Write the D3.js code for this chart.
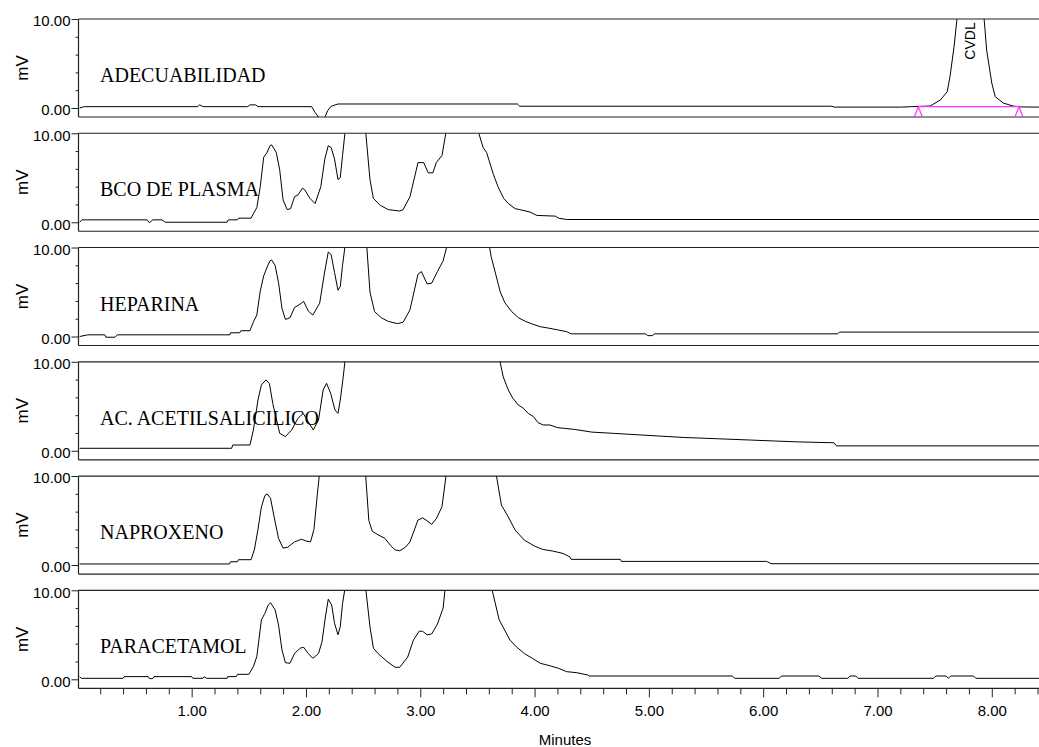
<!DOCTYPE html>
<html>
<head>
<meta charset="utf-8">
<script src="https://cdn.jsdelivr.net/npm/d3@7"></script>
<style>
  html, body { margin: 0; padding: 0; background: #fff; }
  svg { display: block; }
</style>
</head>
<body>
<svg id="chart" width="1039" height="747"></svg>
<script>
// ---------------- DATA ----------------
const panelNames = ["ADECUABILIDAD", "BCO DE PLASMA", "HEPARINA", "AC. ACETILSALICILICO", "NAPROXENO", "PARACETAMOL"];
const xTickMajor = [1, 2, 3, 4, 5, 6, 7, 8];
const yTickLabels = [0, 10];
const yTickMinor = [2, 4, 6, 8];
const xAxisTitle = "Minutes";
const yAxisTitle = "mV";
const peakLabel = "CVDL";
// integration baseline of the CVDL peak [start, end] in minutes and its level in mV
const peakBaseline = [[7.357, 0.15], [8.238, 0.15]];

// [minutes, mV]
const adecuabilidad = [
  [0.02,0.0],[0.06,0.15],[1.05,0.15],[1.07,0.35],[1.10,0.15],[1.49,0.15],[1.51,0.35],[1.56,0.35],[1.58,0.15],
  [2.05,0.15],[2.08,-0.5],[2.12,-1.2],[2.16,-1.2],[2.19,-0.3],[2.22,0.2],[2.28,0.45],[3.85,0.45],[3.87,0.2],
  [6.60,0.2],[6.62,0.1],[7.20,0.1],[7.30,0.15],[7.40,0.2],[7.46,0.22],[7.55,0.9],[7.61,1.83],[7.634,3.5],
  [7.67,6.9],[7.693,9.7],[7.72,14],[7.80,30],[7.90,14],[7.935,9.7],[7.955,6.5],[8.0,2.8],[8.03,1.27],
  [8.10,0.56],[8.186,0.22],[8.25,0.12],[8.42,0.1]
];
const bcoPlasma = [
  [0.02,0.0],[0.04,0.27],[0.61,0.27],[0.63,-0.05],[0.66,0.27],[0.74,0.27],[0.77,0.0],[1.31,0.0],[1.32,0.27],
  [1.40,0.27],[1.41,0.46],[1.52,0.46],[1.54,0.96],[1.57,1.65],[1.60,4.0],[1.63,7.3],[1.66,7.85],[1.685,8.6],
  [1.70,8.7],[1.74,7.85],[1.77,5.9],[1.80,2.5],[1.836,1.42],[1.866,1.53],[1.90,2.87],[1.93,3.07],[1.97,3.83],
  [1.99,3.64],[2.035,2.68],[2.08,2.1],[2.13,4.0],[2.165,7.1],[2.195,8.6],[2.22,8.4],[2.25,7.1],[2.28,4.8],
  [2.30,5.0],[2.32,7.5],[2.345,10.5],[2.44,60],[2.52,10.5],[2.56,4.8],[2.59,2.68],[2.65,1.9],[2.72,1.42],
  [2.82,1.26],[2.85,1.42],[2.91,2.87],[2.98,6.7],[3.03,6.7],[3.07,5.55],[3.11,5.55],[3.14,6.7],[3.19,7.5],
  [3.23,10.5],[3.37,80],[3.50,10.5],[3.55,8.4],[3.58,7.85],[3.64,5.36],[3.68,4.0],[3.73,2.68],[3.77,2.1],
  [3.83,1.53],[3.87,1.42],[3.96,1.15],[4.02,0.77],[4.18,0.69],[4.21,0.46],[4.28,0.31],[8.42,0.31]
];
const heparina = [
  [0.02,0.0],[0.09,0.19],[0.24,0.19],[0.25,-0.08],[0.33,-0.08],[0.35,0.19],[1.335,0.19],[1.34,0.42],[1.42,0.42],
  [1.43,0.65],[1.51,0.65],[1.54,1.65],[1.57,2.41],[1.60,5.1],[1.63,6.8],[1.66,7.8],[1.685,8.5],[1.70,8.6],
  [1.73,8.0],[1.76,6.05],[1.79,3.18],[1.82,1.92],[1.86,2.1],[1.90,3.26],[1.94,3.56],[1.98,3.95],[2.02,2.87],
  [2.06,2.41],[2.12,3.75],[2.16,7.0],[2.195,9.5],[2.22,9.2],[2.25,7.2],[2.28,5.2],[2.30,5.6],[2.32,8.0],
  [2.345,10.5],[2.44,60],[2.53,10.5],[2.56,5.0],[2.60,2.8],[2.66,2.1],[2.72,1.7],[2.80,1.45],[2.85,1.6],
  [2.91,3.0],[2.98,7.0],[3.01,7.3],[3.06,5.9],[3.10,6.0],[3.15,7.3],[3.20,8.5],[3.24,10.5],[3.40,80],
  [3.60,10.5],[3.62,9.0],[3.66,7.0],[3.70,5.0],[3.74,3.8],[3.80,2.8],[3.86,2.1],[3.92,1.7],[3.98,1.4],
  [4.05,1.1],[4.12,0.95],[4.20,0.75],[4.28,0.55],[4.32,0.3],[4.97,0.3],[4.99,0.1],[5.03,0.1],[5.05,0.3],
  [6.65,0.3],[6.67,0.5],[8.42,0.5]
];
const acAcetil = [
  [0.02,0.28],[1.35,0.28],[1.36,0.65],[1.51,0.65],[1.54,2.34],[1.58,5.7],[1.61,7.4],[1.65,7.96],[1.68,7.58],
  [1.71,5.3],[1.77,1.97],[1.82,1.6],[1.875,2.34],[1.93,3.65],[1.976,4.2],[2.02,3.27],[2.064,2.34],[2.11,3.46],
  [2.15,6.83],[2.18,7.58],[2.216,6.46],[2.254,4.58],[2.28,4.2],[2.30,5.7],[2.326,8.3],[2.345,10.5],[2.6,60],
  [3.0,100],[3.4,60],[3.69,10.5],[3.726,8.3],[3.77,6.83],[3.81,5.9],[3.857,5.15],[3.90,4.8],[3.945,4.2],
  [3.99,3.83],[4.03,3.16],[4.076,2.9],[4.135,2.9],[4.20,2.6],[4.35,2.4],[4.50,2.1],[4.70,1.95],[4.90,1.8],
  [5.10,1.65],[5.30,1.5],[5.60,1.35],[5.90,1.2],[6.10,1.1],[6.30,1.0],[6.62,0.9],[6.64,0.55],[8.42,0.55]
];
const naproxeno = [
  [0.02,0.12],[1.33,0.12],[1.34,0.37],[1.40,0.37],[1.41,0.6],[1.52,0.6],[1.55,1.8],[1.58,4.0],[1.61,6.5],
  [1.64,7.8],[1.66,8.0],[1.69,7.5],[1.72,5.5],[1.76,3.0],[1.80,1.9],[1.84,2.0],[1.90,2.6],[1.96,2.9],
  [2.00,2.7],[2.04,2.6],[2.07,4.0],[2.10,8.0],[2.12,10.5],[2.30,60],[2.52,10.5],[2.55,5.0],[2.58,3.8],
  [2.63,3.4],[2.69,3.0],[2.74,2.2],[2.78,1.7],[2.82,1.6],[2.87,2.0],[2.91,2.6],[2.98,5.06],[3.02,5.3],
  [3.05,5.06],[3.10,4.57],[3.14,5.2],[3.19,6.55],[3.23,10.5],[3.40,80],[3.66,10.5],[3.71,6.74],[3.77,5.4],
  [3.83,3.93],[3.91,2.8],[4.00,2.13],[4.07,1.76],[4.16,1.57],[4.25,1.3],[4.31,0.9],[4.32,0.64],[4.75,0.64],
  [4.76,0.41],[6.03,0.41],[6.07,0.15],[8.42,0.15]
];
const paracetamol = [
  [0.02,0.3],[0.035,0.11],[0.40,0.11],[0.41,0.3],[0.62,0.3],[0.63,0.08],[0.66,0.08],[0.67,0.3],[1.00,0.3],
  [1.01,0.11],[1.10,0.11],[1.11,0.3],[1.13,0.11],[1.31,0.11],[1.315,0.3],[1.39,0.3],[1.40,0.56],[1.50,0.56],
  [1.54,1.42],[1.57,2.55],[1.61,6.67],[1.64,7.4],[1.67,8.35],[1.69,8.6],[1.73,7.8],[1.76,6.1],[1.79,3.3],
  [1.82,1.87],[1.86,1.8],[1.90,2.9],[1.95,3.5],[1.98,3.6],[2.02,2.9],[2.06,2.36],[2.11,2.9],[2.14,4.2],
  [2.17,7.0],[2.195,9.0],[2.225,8.35],[2.25,6.3],[2.28,5.0],[2.30,5.9],[2.32,8.5],[2.345,10.5],[2.44,60],
  [2.52,10.5],[2.56,5.9],[2.59,3.5],[2.63,2.9],[2.71,2.0],[2.78,1.35],[2.82,1.35],[2.89,2.5],[2.94,4.4],
  [2.99,5.4],[3.02,5.4],[3.06,5.0],[3.10,5.1],[3.15,6.2],[3.20,8.0],[3.22,10.5],[3.40,80],[3.62,10.5],
  [3.69,6.7],[3.785,4.4],[3.84,3.66],[3.91,2.9],[3.98,2.36],[4.05,1.8],[4.14,1.5],[4.21,1.23],[4.28,0.86],
  [4.37,0.74],[4.46,0.5],[4.48,0.37],[5.73,0.37],[5.75,0.11],[6.14,0.11],[6.16,0.37],[6.49,0.37],[6.51,0.11],
  [6.74,0.11],[6.76,0.37],[6.81,0.37],[6.83,0.11],[7.49,0.11],[7.51,0.37],[7.60,0.37],[7.62,0.11],[7.64,0.37],
  [7.84,0.37],[7.86,0.11],[8.42,0.11]
];
const seriesList = [adecuabilidad, bcoPlasma, heparina, acAcetil, naproxeno, paracetamol];

// ---------------- LAYOUT ----------------
const W = 1039, H = 747;
const left = 78.5, right = 1039.8;
const top0 = 19, step = 114.26, panelH = 98, zeroOff = 89;
const sansFont = "'Liberation Sans', Arial, sans-serif";
const serifFont = "'Liberation Serif', 'Times New Roman', serif";

const svg = d3.select("#chart");
const x = d3.scaleLinear().domain([0.01, 8.42]).range([left, right]);
const line = d3.line().curve(d3.curveLinear);

const defs = svg.append("defs");

panelNames.forEach((name, i) => {
  const T = top0 + i * step;
  const y = d3.scaleLinear().domain([0, 10]).range([T + zeroOff, T]);
  const g = svg.append("g");

  defs.append("clipPath").attr("id", "clip" + i)
    .append("rect").attr("x", left).attr("y", T).attr("width", W - left).attr("height", panelH);

  // trace
  g.append("path")
    .attr("clip-path", "url(#clip" + i + ")")
    .attr("d", line.x(d => x(d[0])).y(d => y(d[1]))(seriesList[i]))
    .attr("fill", "none").attr("stroke", "#000").attr("stroke-width", 1);

  // frame: top, bottom, left
  g.append("line").attr("x1", left).attr("x2", W).attr("y1", T).attr("y2", T)
    .attr("stroke", "#222").attr("stroke-width", 1.2);
  g.append("line").attr("x1", left).attr("x2", W).attr("y1", T + panelH).attr("y2", T + panelH)
    .attr("stroke", "#222").attr("stroke-width", 1.2);

  // y axis: labelled ticks
  const yAxisMajor = d3.axisLeft(y).tickValues(yTickLabels).tickSize(7).tickPadding(1)
    .tickFormat(d3.format(".2f"));
  const ga = g.append("g").attr("transform", `translate(${left},0)`).call(yAxisMajor);
  ga.select(".domain").remove();
  ga.selectAll("text").attr("font-family", sansFont).attr("font-size", 15).attr("fill", "#000").attr("dy", "0.45em");
  ga.selectAll("line").attr("stroke", "#222");
  const yAxisMinor = d3.axisLeft(y).tickValues(yTickMinor).tickSize(3).tickFormat("");
  const gm = g.append("g").attr("transform", `translate(${left},0)`).call(yAxisMinor);
  gm.select(".domain").remove();
  gm.selectAll("line").attr("stroke", "#222");
  g.append("line").attr("x1", left).attr("x2", left).attr("y1", T).attr("y2", T + panelH)
    .attr("stroke", "#222").attr("stroke-width", 1.2);

  // mV title
  g.append("text")
    .attr("transform", `translate(22.5,${T + 49}) rotate(-90)`)
    .attr("text-anchor", "middle").attr("dominant-baseline", "central")
    .attr("font-family", sansFont).attr("font-size", 17).attr("fill", "#000")
    .text(yAxisTitle);

  // panel label
  g.append("text").attr("x", 100).attr("y", T + 63)
    .attr("font-family", serifFont).attr("font-size", 20).attr("fill", "#000")
    .text(name);

  if (i === 0) {
    // integration baseline (magenta) with markers
    const pb = peakBaseline;
    g.append("line")
      .attr("x1", x(pb[0][0])).attr("x2", x(pb[1][0]))
      .attr("y1", y(pb[0][1])).attr("y2", y(pb[1][1]))
      .attr("stroke", "#ff33ff").attr("stroke-width", 1.2);
    pb.forEach(p => {
      const cx = x(p[0]), cy = y(p[1]);
      g.append("path")
        .attr("d", `M${cx - 4},${T + panelH} L${cx},${cy} L${cx + 4},${T + panelH}`)
        .attr("fill", "none").attr("stroke", "#ff33ff").attr("stroke-width", 1.2);
    });
    // peak label
    g.append("text")
      .attr("transform", `translate(${x(7.81)},${T + 22}) rotate(-90)`)
      .attr("text-anchor", "middle").attr("dominant-baseline", "central")
      .attr("font-family", sansFont).attr("font-size", 14).attr("fill", "#000")
      .text(peakLabel);
  }
});

// bottom x axis
const lastT = top0 + (panelNames.length - 1) * step;
const axisY = lastT + panelH;
const xAxisMajor = d3.axisBottom(x).tickValues(xTickMajor).tickSize(9).tickPadding(8)
  .tickFormat(d3.format(".2f"));
const gx = svg.append("g").attr("transform", `translate(0,${axisY})`).call(xAxisMajor);
gx.select(".domain").remove();
gx.selectAll("text").attr("font-family", sansFont).attr("font-size", 15).attr("fill", "#000");
gx.selectAll("line").attr("stroke", "#222");
const minorVals = d3.range(1, 43).map(k => k * 0.2).filter(v => Math.abs(v - Math.round(v)) > 1e-6 && v <= 8.42);
const gxm = svg.append("g").attr("transform", `translate(0,${axisY})`)
  .call(d3.axisBottom(x).tickValues(minorVals).tickSize(6).tickFormat(""));
gxm.select(".domain").remove();
gxm.selectAll("line").attr("stroke", "#222");

svg.append("text").attr("x", 565).attr("y", 745)
  .attr("text-anchor", "middle")
  .attr("font-family", sansFont).attr("font-size", 15).attr("fill", "#000")
  .text(xAxisTitle);
</script>
</body>
</html>
